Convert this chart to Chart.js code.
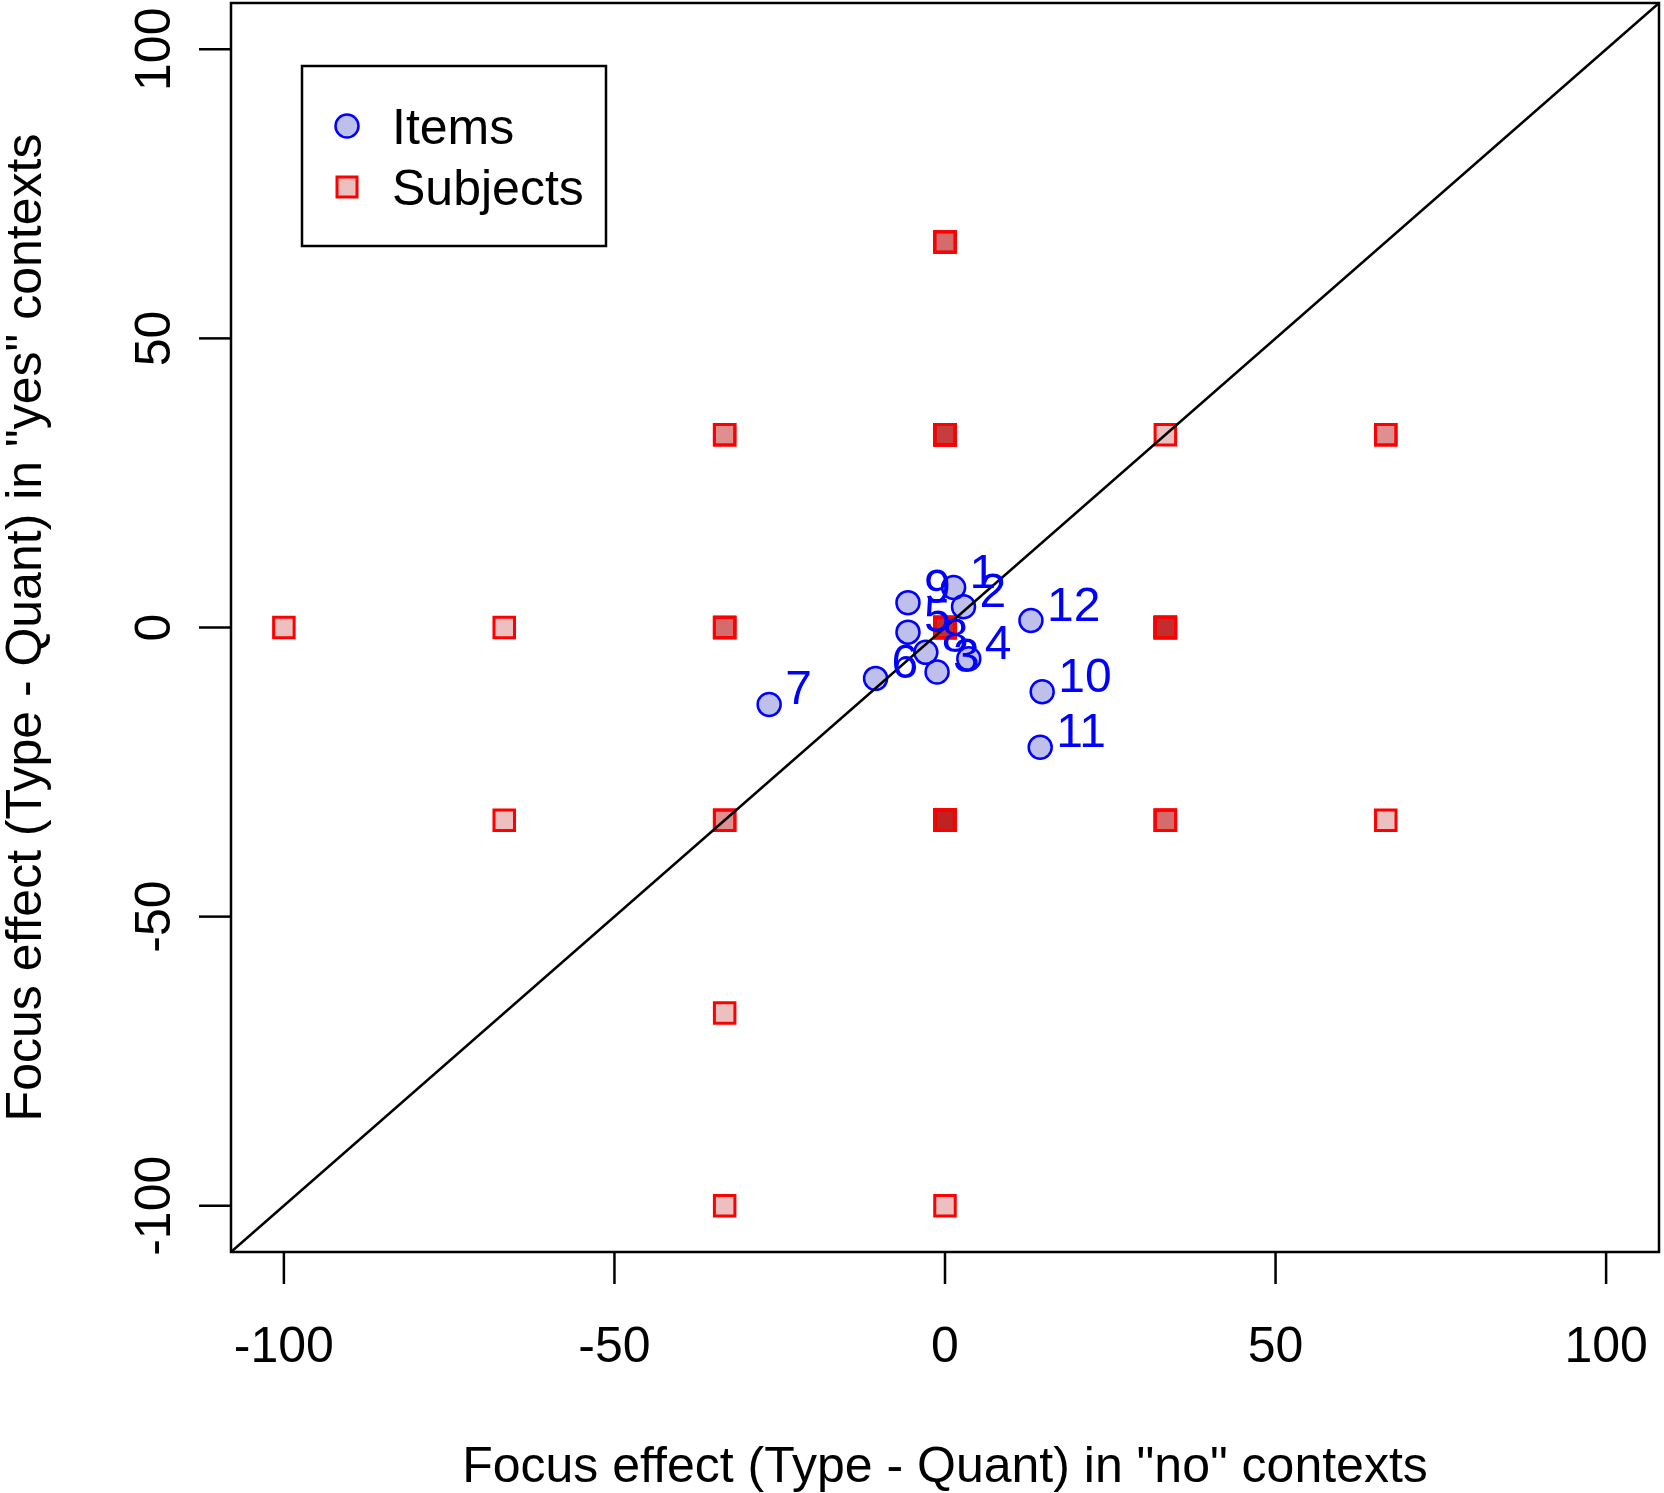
<!DOCTYPE html>
<html>
<head>
<meta charset="utf-8">
<script src="https://cdn.jsdelivr.net/npm/chart.js@4/dist/chart.umd.min.js"></script>
<style>
  html, body { margin: 0; padding: 0; background: #fff; overflow: hidden; }
  #wrap { width: 1664px; height: 1493px; position: relative; }
</style>
</head>
<body>
<div id="wrap"><canvas id="graphCanvas"></canvas></div>
<script>
// items (blue circles)
const itemLabels = ['1', '2', '3', '4', '5', '6', '7', '8', '9', '10', '11', '12']
const itemX = [1.3, 2.8, -1.2, 3.6, -5.6, -10.5, -26.6, -2.9, -5.6, 14.7, 14.4, 13.0]
const itemY = [6.9, 3.6, -7.7, -5.4, -0.8, -8.8, -13.3, -4.3, 4.3, -11.1, -20.7, 1.2]

// subjects (red squares), one entry per subject, so stacked points get darker
const subjX = [
  0, 0, 0,
  -33.33, -33.33,
  0, 0, 0, 0, 0,
  33.33,
  66.67, 66.67,
  -100, -66.67,
  -33.33, -33.33, -33.33,
  0, 0, 0, 0, 0, 0,
  33.33, 33.33, 33.33, 33.33, 33.33, 33.33,
  -66.67,
  -33.33, -33.33,
  0, 0, 0, 0, 0, 0, 0,
  33.33, 33.33, 33.33,
  66.67,
  -33.33,
  -33.33, 0
]
const subjY = [
  66.67, 66.67, 66.67,
  33.33, 33.33,
  33.33, 33.33, 33.33, 33.33, 33.33,
  33.33,
  33.33, 33.33,
  0, 0,
  0, 0, 0,
  0, 0, 0, 0, 0, 0,
  0, 0, 0, 0, 0, 0,
  -33.33,
  -33.33, -33.33,
  -33.33, -33.33, -33.33, -33.33, -33.33, -33.33, -33.33,
  -33.33, -33.33, -33.33,
  -33.33,
  -66.67,
  -100, -100
]

const xTicks = [-100, -50, 0, 50, 100]
const yTicks = [-100, -50, 0, 50, 100]
const axisMin = -108
const axisMax = 108
const diagX = [-108, 108]

const xTitle = 'Focus effect (Type - Quant) in "no" contexts'
const yTitle = 'Focus effect (Type - Quant) in "yes" contexts'

const FONT = '"Liberation Sans", Arial, Helvetica, sans-serif'

const itemBorder = 'rgb(0,0,255)'
const itemFill = 'rgba(0,0,180,0.25)'
const subjBorder = 'rgb(255,0,0)'
const subjFill = 'rgba(185,0,0,0.25)'

function line(ctx, x1, y1, x2, y2) {
  ctx.beginPath()
  ctx.moveTo(x1, y1)
  ctx.lineTo(x2, y2)
  ctx.stroke()
}

// box, ticks, tick labels and axis titles (R style, y labels rotated)
const axesPlugin = {
  id: 'axesPlugin',
  afterDraw(chart) {
    const ctx = chart.ctx
    const a = chart.chartArea
    const sx = chart.scales.x
    const sy = chart.scales.y
    ctx.save()
    ctx.strokeStyle = '#000'
    ctx.fillStyle = '#000'
    ctx.lineWidth = 2.5
    ctx.strokeRect(a.left, a.top, a.right - a.left, a.bottom - a.top)
    ctx.font = '50px ' + FONT
    ctx.textAlign = 'center'
    ctx.textBaseline = 'alphabetic'
    xTicks.forEach(v => {
      const px = sx.getPixelForValue(v)
      line(ctx, px, a.bottom, px, a.bottom + 32)
      ctx.fillText(String(v), px, a.bottom + 110)
    })
    yTicks.forEach(v => {
      const py = sy.getPixelForValue(v)
      line(ctx, a.left - 32, py, a.left, py)
      ctx.save()
      ctx.translate(a.left - 61, py)
      ctx.rotate(-Math.PI / 2)
      ctx.fillText(String(v), 0, 0)
      ctx.restore()
    })
    ctx.fillText(xTitle, (a.left + a.right) / 2, a.bottom + 230)
    ctx.save()
    ctx.translate(41, (a.top + a.bottom) / 2)
    ctx.rotate(-Math.PI / 2)
    ctx.fillText(yTitle, 0, 0)
    ctx.restore()
    ctx.restore()
  }
}

// numbers next to the item points
const itemLabelPlugin = {
  id: 'itemLabelPlugin',
  afterDatasetsDraw(chart) {
    const ctx = chart.ctx
    const meta = chart.getDatasetMeta(1)
    ctx.save()
    ctx.font = '48px ' + FONT
    ctx.fillStyle = 'rgb(0,0,255)'
    ctx.textAlign = 'left'
    ctx.textBaseline = 'alphabetic'
    meta.data.forEach((pt, i) => {
      ctx.fillText(itemLabels[i], pt.x + 16, pt.y)
    })
    ctx.restore()
  }
}

// legend box top left inside the plot
const legendPlugin = {
  id: 'legendPlugin',
  afterDraw(chart) {
    const ctx = chart.ctx
    const bx = 302, by = 66, bw = 304, bh = 180
    ctx.save()
    ctx.strokeStyle = '#000'
    ctx.lineWidth = 2.5
    ctx.fillStyle = '#fff'
    ctx.fillRect(bx, by, bw, bh)
    ctx.strokeRect(bx, by, bw, bh)
    // circle
    ctx.beginPath()
    ctx.arc(347, 126, 11.5, 0, Math.PI * 2)
    ctx.fillStyle = itemFill
    ctx.fill()
    ctx.strokeStyle = itemBorder
    ctx.lineWidth = 2.5
    ctx.stroke()
    // square
    ctx.fillStyle = subjFill
    ctx.fillRect(337, 177, 20, 20)
    ctx.strokeStyle = subjBorder
    ctx.lineWidth = 3
    ctx.strokeRect(337, 177, 20, 20)
    ctx.fillStyle = '#000'
    ctx.font = '50px ' + FONT
    ctx.textAlign = 'left'
    ctx.textBaseline = 'alphabetic'
    ctx.fillText('Items', 392, 144)
    ctx.fillText('Subjects', 392, 205)
    ctx.restore()
  }
}

const itemPoints = itemX.map((x, i) => ({ x: x, y: itemY[i] }))
const subjPoints = subjX.map((x, i) => ({ x: x, y: subjY[i] }))
const diagPoints = diagX.map(v => ({ x: v, y: v }))

const chartdata = {
  datasets: [
    {
      type: 'line',
      label: 'diag',
      data: diagPoints,
      borderColor: '#000',
      borderWidth: 2.5,
      pointRadius: 0,
      fill: false,
      order: 0
    },
    {
      label: 'Items',
      data: itemPoints,
      pointStyle: 'circle',
      pointRadius: 11.5,
      borderWidth: 2.5,
      borderColor: itemBorder,
      backgroundColor: itemFill,
      order: 1
    },
    {
      label: 'Subjects',
      data: subjPoints,
      pointStyle: 'rect',
      pointRadius: 14.5,
      borderWidth: 3,
      borderColor: subjBorder,
      backgroundColor: subjFill,
      order: 2
    }
  ]
}

new Chart(document.getElementById('graphCanvas'), {
  type: 'scatter',
  data: chartdata,
  options: {
    responsive: true,
    maintainAspectRatio: false,
    animation: false,
    events: [],
    layout: { autoPadding: false, padding: { left: 231, top: 3, right: 5, bottom: 241 } },
    plugins: { legend: { display: false }, tooltip: { enabled: false } },
    scales: {
      x: { type: 'linear', min: axisMin, max: axisMax, display: false },
      y: { type: 'linear', min: axisMin, max: axisMax, display: false }
    }
  },
  plugins: [axesPlugin, itemLabelPlugin, legendPlugin]
})
</script>
</body>
</html>
